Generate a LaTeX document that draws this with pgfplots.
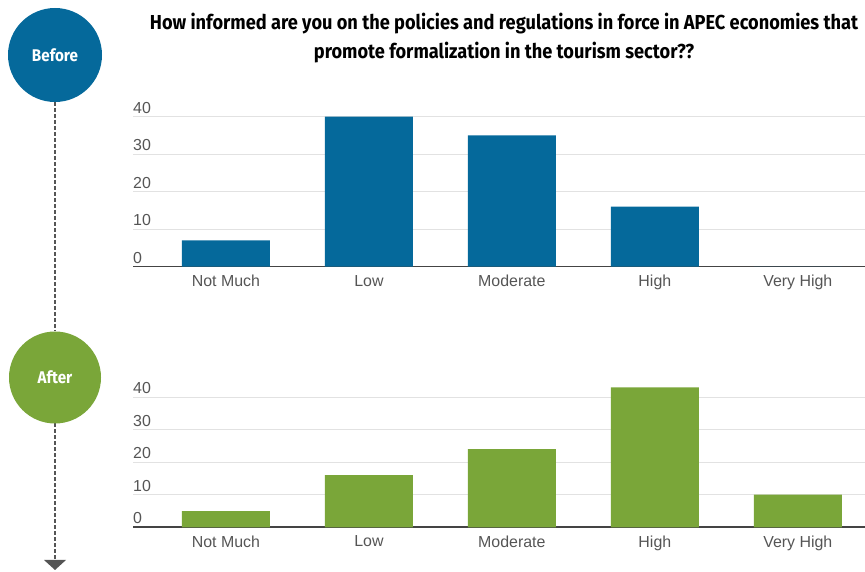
\documentclass[border=0pt]{standalone}
\usepackage{pgfplots}
\pgfplotsset{compat=1.18}
\usepackage{fontspec}
\setmainfont{Liberation Sans}
\newfontfamily\headfont[FakeStretch=0.9]{Fira Sans}
\definecolor{before}{HTML}{05699B}
\definecolor{after}{HTML}{7AA639}
\definecolor{labelgray}{HTML}{555555}
\definecolor{gridgray}{HTML}{E2E2E2}
\definecolor{basegray}{HTML}{444444}

\pgfplotsset{
  panel/.style={
    scale only axis,
    width=732bp,
    xmin=-0.65, xmax=4.47,
    ymin=0,
    axis x line=bottom,
    axis y line=left,
    x axis line style={-, color=basegray, line width=1.6bp},
    y axis line style={draw=none},
    xtick={0,1,2,3,4},
    xticklabels={Not Much, Low, Moderate, High, Very High},
    ytick={0,10,20,30,40},
    major tick length=0pt,
    ymajorgrids,
    grid style={gridgray, line width=1bp},
    /pgf/number format/assume math mode=true,
    tick label style={font=\fontsize{16}{18}\selectfont, text=labelgray},
    yticklabel style={anchor=south west, inner xsep=0pt, inner ysep=3bp},
    xticklabel style={yshift=-5bp},
    ybar, bar width=88bp,
    clip=false,
    anchor=south west,
  },
}

\begin{document}
\begin{tikzpicture}[x=1bp,y=1bp]
\path[use as bounding box] (0,0) rectangle (865,572);

% timeline on the left
\draw[labelgray, line width=1.5bp, dash pattern=on 4bp off 2bp] (55,470) -- (55,240.5);
\draw[labelgray, line width=1.5bp, dash pattern=on 4bp off 2bp] (55,148.5) -- (55,12);
\fill[labelgray] (44,12) -- (66,12) -- (55,2) -- cycle;
\fill[before] (55,517) circle (47);
\fill[after] (55,194.5) circle (46);
\node[text=white, font=\headfont\bfseries\fontsize{17}{19}\selectfont] at (55,517) {Before};
\node[text=white, font=\headfont\bfseries\fontsize{17}{19}\selectfont] at (55,195) {After};

% heading
\node[font=\headfont\bfseries\fontsize{20.3}{30}\selectfont, align=center, text=black] at (504,534)
  {How informed are you on the policies and regulations in force in APEC economies that\\
   promote formalization in the tourism sector??};

% before
\begin{axis}[panel, at={(133bp,305.3bp)}, height=150bp, ymax=40]
\addplot[fill=before, draw=none] coordinates {(0,7) (1,40) (2,35) (3,16) (4,0)};
\end{axis}

% after
\begin{axis}[panel, at={(133bp,44.7bp)}, height=143.3bp, ymax=44]
\addplot[fill=after, draw=none] coordinates {(0,5) (1,16) (2,24) (3,43) (4,10)};
\end{axis}
\end{tikzpicture}
\end{document}
